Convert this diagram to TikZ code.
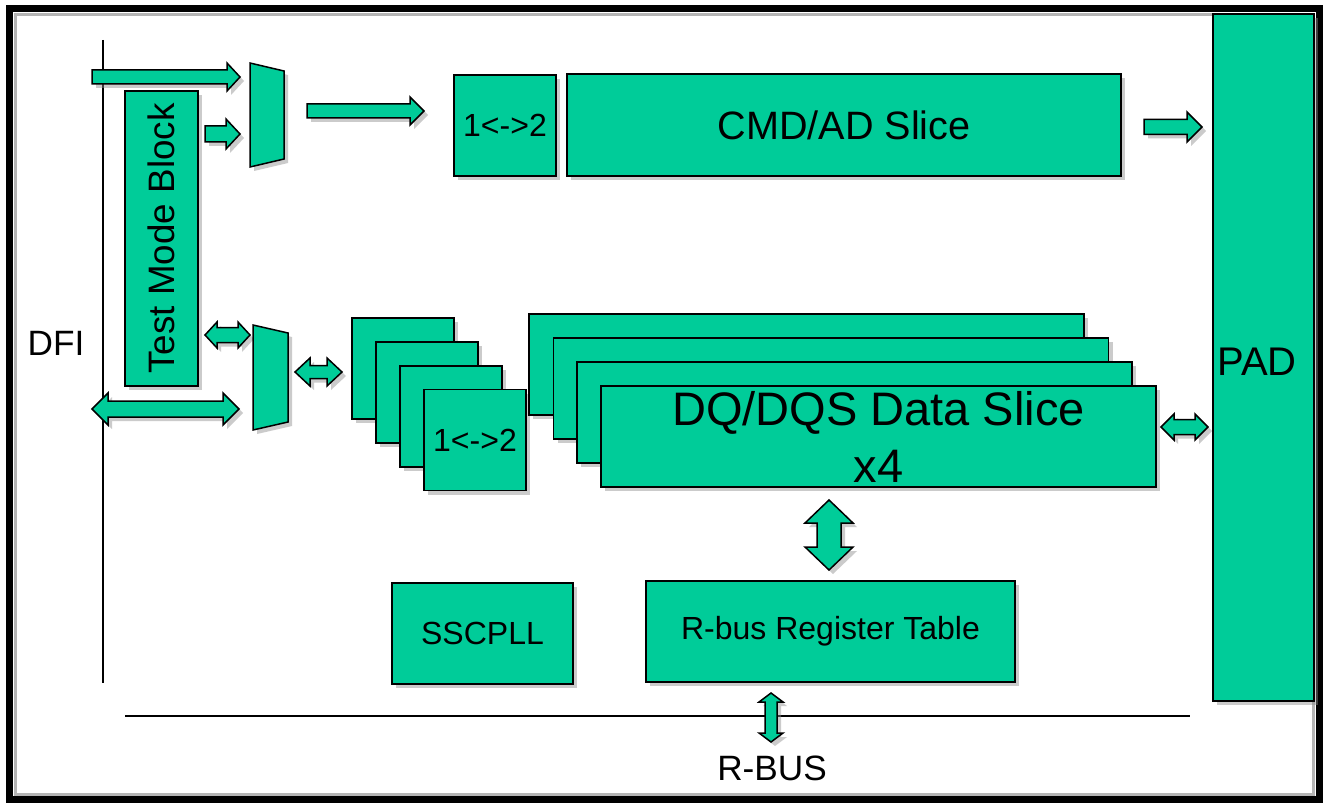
\documentclass[tikz,border=0pt]{standalone}
\usepackage{fontspec}
\setmainfont{Liberation Sans}
\usepackage{graphicx}
\usepackage{tikz}
\usetikzlibrary{shadows}
\definecolor{slice}{HTML}{00CC99}
\definecolor{shade}{HTML}{8C8C8C}
\definecolor{rim}{HTML}{B4B4B4}
\tikzset{
  blk/.style={draw=black, fill=slice, line width=0.75pt, line join=miter,
    drop shadow={shadow xshift=2pt, shadow yshift=-2pt, opacity=0.45, fill=shade}},
  box/.style={blk, inner sep=0pt, align=center},
  serbox/.style={box, minimum width=51pt, minimum height=50.5pt},
  slicebox/.style={box, minimum width=277.5pt, minimum height=50.5pt},
  wire/.style={draw=black, line width=0.75pt},
  lab/.style={text=black, inner sep=0pt},
  fbig/.style={font=\fontsize{23.5pt}{28.5pt}\selectfont},
  fmid/.style={font=\fontsize{19.8pt}{24pt}\selectfont},
  fsml/.style={font=\fontsize{17.6pt}{21pt}\selectfont},
  ftab/.style={font=\fontsize{16pt}{19pt}\selectfont},
}
% block arrows: x1, x2, y, shaft half, head half, head length (px)
\newcommand{\sarrow}[6]{%
  \path[blk] (#1,#3-#4) -- (#2-#6,#3-#4) -- (#2-#6,#3-#5) -- (#2,#3)
    -- (#2-#6,#3+#5) -- (#2-#6,#3+#4) -- (#1,#3+#4) -- cycle;}
\newcommand{\darrow}[6]{%
  \path[blk] (#1,#3) -- (#1+#6,#3-#5) -- (#1+#6,#3-#4) -- (#2-#6,#3-#4)
    -- (#2-#6,#3-#5) -- (#2,#3) -- (#2-#6,#3+#5) -- (#2-#6,#3+#4)
    -- (#1+#6,#3+#4) -- (#1+#6,#3+#5) -- cycle;}
% same, vertical: y1, y2, x, shaft half, head half, head length
\newcommand{\varrow}[6]{%
  \path[blk] (#3,#1) -- (#3+#5,#1+#6) -- (#3+#4,#1+#6) -- (#3+#4,#2-#6)
    -- (#3+#5,#2-#6) -- (#3,#2) -- (#3-#5,#2-#6) -- (#3-#4,#2-#6)
    -- (#3-#4,#1+#6) -- (#3-#5,#1+#6) -- cycle;}

\begin{document}
\begin{tikzpicture}[x=0.5pt,y=-0.5pt]
\useasboundingbox[fill=white] (0,0) rectangle (1325,802);

% frame
\draw[rim, line width=1.5pt] (15,15) rectangle (1313,794);
\draw[black, line width=3.5pt] (9,9) rectangle (1319,799);

% DFI and R-BUS lines
\draw[wire] (103,40) -- (103,683);
\draw[wire] (125,716) -- (1190,716);
\node[lab, fsml] (dfi) at (56,343) {DFI};
\node[lab, fsml] (rbus) at (772,768) {R-BUS};

\node[box, font=\fontsize{18.4pt}{22pt}\selectfont, minimum width=36.5pt, minimum height=147.5pt]
  (tmb) at (161.5,238.5) {\rotatebox{90}{Test Mode Block}};

% command path
\sarrow{92}{240}{77}{7}{14}{13}
\sarrow{205}{240}{134}{8}{15}{14}
\path[blk] (250,63) -- (284,71) -- (284,159) -- (250,167) -- cycle;
\sarrow{307}{424}{111}{7}{14}{14}
\node[serbox, ftab] (cmdser) at (505,125.5) {1<->2};
\node[box, fmid, minimum width=277pt, minimum height=51pt] (cmd) at (844,125) {CMD/AD Slice};

\node[box, minimum width=50.5pt, minimum height=343.5pt] (pad) at (1263.5,357.5) {};
\node[lab, font=\fontsize{20pt}{24pt}\selectfont] (padtxt) at (1257,362) {PAD};
\sarrow{1144}{1202}{127}{7.5}{15}{15}

% data path
\darrow{205}{250}{335}{7.5}{13}{12}
\darrow{92}{239}{409}{8}{16}{16}
\path[blk] (253,325) -- (288,333) -- (288,422) -- (253,430) -- cycle;
\darrow{295}{342}{372}{6.5}{14}{15}
\node[serbox] (dser3) at (403,368.5) {};
\node[serbox] (dser2) at (427,392.5) {};
\node[serbox] (dser1) at (451,416.5) {};
\node[serbox, ftab] (dser0) at (475,440) {1<->2};

\node[slicebox] (dq3) at (806.5,364.5) {};
\node[slicebox] (dq2) at (831,388.5) {};
\node[slicebox] (dq1) at (854.5,412.5) {};
\node[slicebox, fbig] (dq0) at (878.5,436.5) {DQ/DQS Data Slice\\x4};
\darrow{1161}{1208}{427}{7.5}{13}{13}

% register side
\varrow{500}{570}{829}{12}{24}{23}
\node[box, ftab, minimum width=90.5pt, minimum height=50.5pt] (pll) at (482.5,633.5) {SSCPLL};
\node[box, ftab, minimum width=184.5pt, minimum height=50.5pt] (rbt) at (830.5,631.5) {R-bus Register Table};
\varrow{693}{742}{771}{6}{12}{9}
\end{tikzpicture}
\end{document}
